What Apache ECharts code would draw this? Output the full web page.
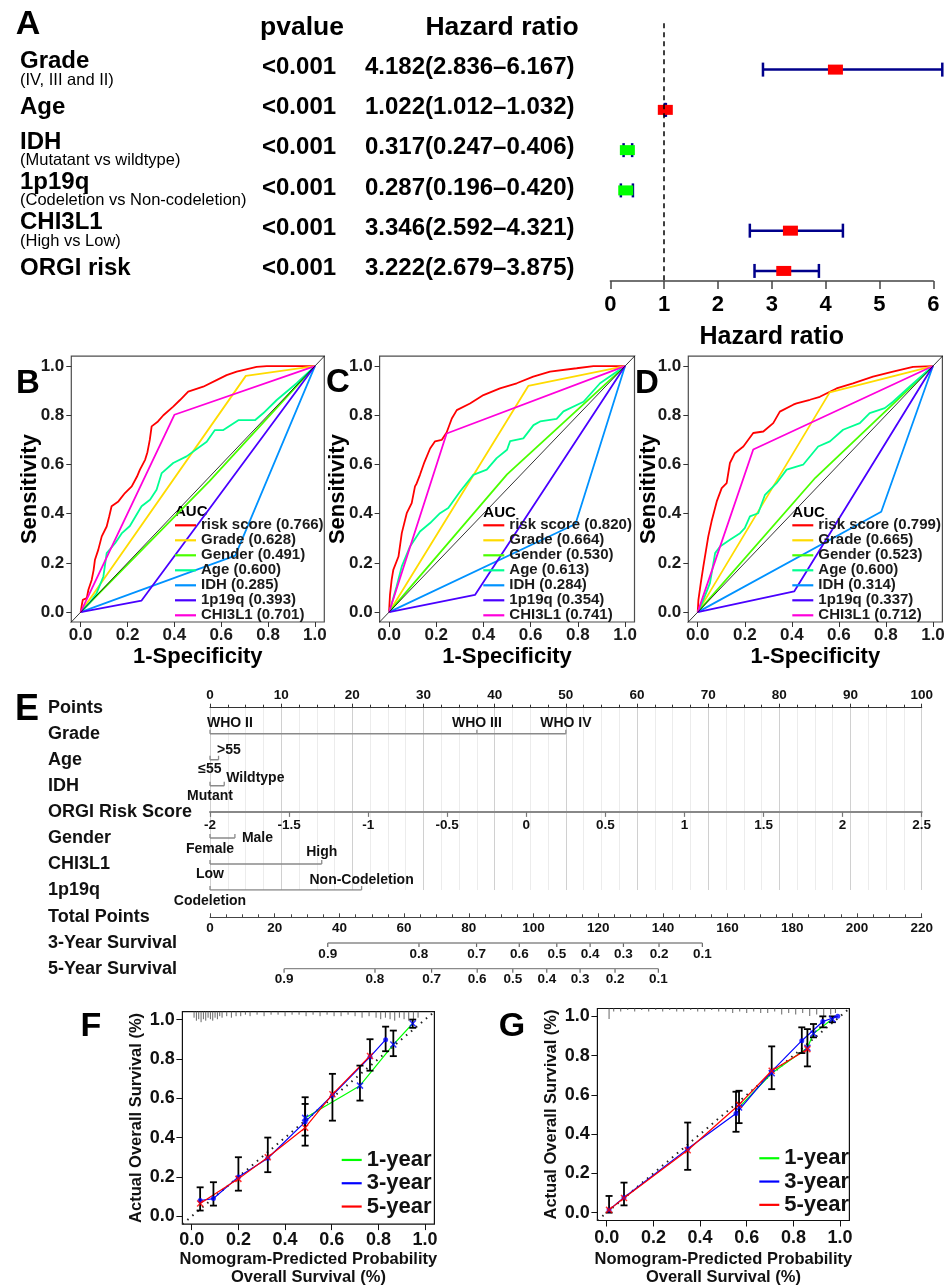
<!DOCTYPE html>
<html><head><meta charset="utf-8">
<script src="https://cdn.jsdelivr.net/npm/echarts@6/dist/echarts.min.js"></script>
<style>html,body{margin:0;padding:0;background:#fff}#c{width:951px;height:1286px}</style>
</head><body><div id="c"></div>
<script>
const FONT = "'Liberation Sans', Arial, Helvetica, sans-serif";

// ---------------- Panel A : Cox forest ----------------
const coxVars = ['Grade','Age','IDH','1p19q','CHI3L1','ORGI risk'];
const coxSubs = ['(IV, III and II)','','(Mutatant vs wildtype)','(Codeletion vs Non-codeletion)','(High vs Low)',''];
const coxP = ['<0.001','<0.001','<0.001','<0.001','<0.001','<0.001'];
const coxHR = [4.182,1.022,0.317,0.287,3.346,3.222];
const coxLo = [2.836,1.012,0.247,0.196,2.592,2.679];
const coxHi = [6.167,1.032,0.406,0.420,4.321,3.875];

// ---------------- Panels B-D : ROC ----------------
const rocVars = ['risk score','Grade','Gender','Age','IDH','1p19q','CHI3L1'];
const aucB = [0.766,0.628,0.491,0.600,0.285,0.393,0.701];
const aucC = [0.820,0.664,0.530,0.613,0.284,0.354,0.741];
const aucD = [0.799,0.665,0.523,0.600,0.314,0.337,0.712];
const rocTicks = [0,0.2,0.4,0.6,0.8,1];

const rocB_risk = [[0,0],[0.005,0.03],[0.009,0.05],[0.026,0.057],[0.033,0.091],[0.047,0.131],[0.055,0.17],[0.061,0.213],[0.075,0.253],[0.09,0.308],[0.111,0.348],[0.122,0.39],[0.132,0.43],[0.161,0.45],[0.189,0.484],[0.218,0.511],[0.24,0.55],[0.253,0.579],[0.275,0.619],[0.285,0.65],[0.295,0.70],[0.303,0.755],[0.33,0.775],[0.353,0.80],[0.395,0.835],[0.424,0.862],[0.459,0.896],[0.523,0.916],[0.58,0.943],[0.623,0.963],[0.666,0.977],[0.751,0.997],[0.794,1.0],[1,1]];
const rocB_grade = [[0,0],[0.705,0.96],[1,1]];
const rocB_gender = [[0,0],[0.55,0.532],[1,1]];
const rocB_age = [[0,0],[0.04,0.04],[0.068,0.077],[0.097,0.145],[0.111,0.24],[0.147,0.28],[0.175,0.32],[0.21,0.35],[0.26,0.43],[0.296,0.457],[0.324,0.497],[0.346,0.565],[0.395,0.606],[0.452,0.633],[0.538,0.692],[0.573,0.74],[0.609,0.74],[0.673,0.78],[0.744,0.78],[0.779,0.808],[0.837,0.862],[0.922,0.93],[1,1]];
const rocB_idh = [[0,0],[0.66,0.23],[1,1]];
const rocB_1p19q = [[0,0],[0.26,0.047],[1,1]];
const rocB_chi = [[0,0],[0.40,0.802],[1,1]];

const rocC_risk = [[0,0],[0.004,0.07],[0.011,0.131],[0.018,0.172],[0.04,0.226],[0.054,0.321],[0.075,0.402],[0.096,0.443],[0.11,0.511],[0.117,0.523],[0.131,0.558],[0.15,0.61],[0.174,0.665],[0.195,0.694],[0.223,0.70],[0.244,0.73],[0.266,0.787],[0.287,0.821],[0.343,0.848],[0.40,0.882],[0.47,0.909],[0.541,0.93],[0.611,0.957],[0.682,0.977],[0.795,0.991],[0.866,1.0],[1,1]];
const rocC_grade = [[0,0],[0.59,0.919],[1,1]];
const rocC_gender = [[0,0],[0.5,0.56],[1,1]];
const rocC_age = [[0,0],[0.01,0.03],[0.032,0.104],[0.054,0.186],[0.089,0.267],[0.131,0.328],[0.174,0.362],[0.216,0.402],[0.251,0.423],[0.301,0.49],[0.357,0.558],[0.414,0.579],[0.456,0.626],[0.5,0.66],[0.513,0.695],[0.569,0.706],[0.612,0.76],[0.64,0.775],[0.71,0.785],[0.739,0.816],[0.824,0.855],[0.894,0.93],[1,1]];
const rocC_idh = [[0,0],[0.79,0.358],[1,1]];
const rocC_1p19q = [[0,0],[0.364,0.07],[1,1]];
const rocC_chi = [[0,0],[0.244,0.726],[1,1]];

const rocD_risk = [[0,0],[0.003,0.05],[0.013,0.118],[0.024,0.186],[0.035,0.25],[0.045,0.308],[0.059,0.369],[0.081,0.45],[0.102,0.504],[0.123,0.524],[0.137,0.606],[0.158,0.646],[0.194,0.673],[0.236,0.728],[0.279,0.734],[0.321,0.768],[0.349,0.815],[0.406,0.843],[0.42,0.848],[0.477,0.863],[0.519,0.875],[0.59,0.909],[0.66,0.93],[0.745,0.957],[0.83,0.977],[0.915,0.997],[1,1]];
const rocD_grade = [[0,0],[0.561,0.893],[1,1]];
const rocD_gender = [[0,0],[0.5,0.546],[1,1]];
const rocD_age = [[0,0],[0.02,0.04],[0.052,0.118],[0.074,0.24],[0.095,0.267],[0.137,0.294],[0.18,0.321],[0.2,0.341],[0.222,0.389],[0.257,0.402],[0.286,0.477],[0.335,0.524],[0.378,0.579],[0.448,0.599],[0.512,0.673],[0.562,0.694],[0.618,0.741],[0.689,0.768],[0.731,0.809],[0.795,0.829],[0.83,0.855],[0.90,0.916],[1,1]];
const rocD_idh = [[0,0],[0.78,0.408],[1,1]];
const rocD_1p19q = [[0,0],[0.41,0.084],[1,1]];
const rocD_chi = [[0,0],[0.236,0.661],[1,1]];

// ---------------- Panel E : nomogram ----------------
const nomoRows = ['Points','Grade','Age','IDH','ORGI Risk Score','Gender','CHI3L1','1p19q'];
const nomoRows2 = ['Total Points','3-Year Survival','5-Year Survival'];
const gradeLevels = ['WHO II','WHO III','WHO IV'];   const gradePts = [0,37.5,50];
const ageLevels = ['\u226455','>55'];                 const agePts = [0,1.2];
const idhLevels = ['Mutant','Wildtype'];              const idhPts = [0,2.0];
const genderLevels = ['Female','Male'];               const genderPts = [0,3.5];
const chiLevels = ['Low','High'];                     const chiPts = [0,15.7];
const codelLevels = ['Codeletion','Non-Codeletion']; const codelPts = [0,21.3];
const riskScoreMin = -2, riskScoreMax = 2.5, riskScoreStep = 0.5;
const totalMax = 220;
const surv3Prob = [0.9,0.8,0.7,0.6,0.5,0.4,0.3,0.2,0.1];
const surv3Pts  = [36.4,64.6,82.4,95.6,107.2,117.5,127.8,138.8,152.2];
const surv5Prob = [0.9,0.8,0.7,0.6,0.5,0.4,0.3,0.2,0.1];
const surv5Pts  = [22.9,51.0,68.5,82.6,93.6,104.1,114.4,125.2,138.6];

// ---------------- Panels F, G : calibration ----------------
const calTicks = [0,0.2,0.4,0.6,0.8,1];
const f1x = [0.486,0.721,0.864,0.947];            const f1y = [0.50,0.664,0.873,0.98];
const f3x = [0.036,0.093,0.20,0.326,0.486,0.603,0.764,0.831]; const f3y = [0.08,0.09,0.20,0.295,0.48,0.615,0.81,0.898];
const f5x = [0.036,0.20,0.326,0.486,0.603,0.764]; const f5y = [0.065,0.19,0.30,0.45,0.62,0.815];
const errFx  = [0.036,0.093,0.20,0.326,0.486,0.486,0.603,0.721,0.764,0.831,0.864,0.947];
const errFlo = [0.029,0.054,0.13,0.224,0.359,0.41,0.486,0.588,0.74,0.839,0.814,0.958];
const errFhi = [0.147,0.173,0.30,0.40,0.605,0.571,0.724,0.766,0.90,0.964,0.944,1.0];
const rugFx = [0.01,0.02,0.03,0.04,0.05,0.06,0.07,0.08,0.09,0.10,0.11,0.12,0.13,0.15,0.17,0.19,0.21,0.23,0.25,0.28,0.31,0.34,0.37,0.40,0.43,0.46,0.49,0.52,0.55,0.58,0.61,0.64,0.67,0.70,0.73,0.76,0.79,0.81,0.83,0.85,0.87,0.89,0.91,0.93,0.95,0.97];
const rugFn = [4,6,5,7,5,6,4,5,6,4,5,3,4,3,4,3,3,2,3,2,3,2,2,3,2,2,3,2,3,2,3,3,2,3,4,3,4,5,4,5,6,4,5,6,5,4];

const g1x = [0.567,0.707,0.86,0.886,0.967];       const g1y = [0.536,0.71,0.84,0.913,0.986];
const g3x = [0.01,0.074,0.347,0.554,0.707,0.836,0.926,0.99]; const g3y = [0.014,0.077,0.325,0.505,0.72,0.876,0.974,1.0];
const g5x = [0.01,0.074,0.347,0.567,0.707,0.86];  const g5y = [0.014,0.075,0.318,0.55,0.723,0.833];
const errGx  = [0.01,0.074,0.347,0.554,0.567,0.707,0.836,0.86,0.886,0.926,0.967];
const errGlo = [0.0,0.037,0.218,0.412,0.456,0.629,0.813,0.745,0.893,0.944,0.97];
const errGhi = [0.085,0.153,0.459,0.616,0.621,0.847,0.944,0.935,0.961,1.0,1.0];
const rugGx = [0.01,0.03,0.06,0.09,0.12,0.15,0.18,0.21,0.24,0.27,0.30,0.33,0.36,0.39,0.42,0.45,0.48,0.51,0.54,0.57,0.60,0.63,0.66,0.69,0.72,0.75,0.78,0.81,0.84,0.87,0.90,0.93,0.96,0.98];
const rugGn = [7,2,2,1,2,1,2,1,2,1,2,2,1,2,2,1,2,2,3,2,3,2,3,3,2,4,3,4,3,5,4,5,4,3];

// ======================= build =======================
const rocPalette = ['#FF0000','#FFDB00','#49FF00','#00FF92','#0092FF','#4900FF','#FF00DB'];
const AX_MIN = -0.04, AX_MAX = 1.04;
const bold = (size, color) => ({fontSize:size, fontWeight:'bold', color:color||'#111', fontFamily:FONT});

const grids = [
  {left:610.3, top:23.3, width:323, height:257.7},          // 0 forest
  {left:71.3, top:356.2, width:253, height:265.8},           // 1 ROC B
  {left:379.6, top:356.2, width:254.9, height:265.8},        // 2 ROC C
  {left:688.3, top:356.2, width:254.1, height:265.8},        // 3 ROC D
  {left:210, top:707.7, width:711.7, height:182.3},          // 4 nomogram rows
  {left:210, top:810.9, width:711.7, height:1},              // 5 ORGI axis
  {left:210, top:917.3, width:711.7, height:51.4},           // 6 total + survival
  {left:182.4, top:1011.7, width:252, height:212.4},         // 7 F
  {left:597.4, top:1008.5, width:252, height:212}            // 8 G
].map(g => Object.assign({outerBoundsMode:'none', containLabel:false}, g));
[1,2,3].forEach(i => { grids[i].show = true; grids[i].borderColor = '#4d4d4d'; grids[i].borderWidth = 1.2; grids[i].backgroundColor='transparent'; });
[7,8].forEach(i => { grids[i].show = true; grids[i].borderColor = '#111'; grids[i].borderWidth = 1.2; grids[i].backgroundColor='transparent'; });

function rocXAxis(gi){
  return {type:'value', gridIndex:gi, min:AX_MIN, max:AX_MAX,
    axisLine:{show:false, onZero:false},
    axisTick:{show:true, customValues:rocTicks, length:5, lineStyle:{color:'#333'}},
    axisLabel:Object.assign({customValues:rocTicks, formatter:v=>v.toFixed(1), margin:5}, bold(17,'#1a1a1a')),
    splitLine:{show:false},
    name:'1-Specificity', nameLocation:'middle', nameGap:24, nameMoveOverlap:false, nameTextStyle:bold(22,'#000')};
}
function rocYAxis(gi, gap){
  return {type:'value', gridIndex:gi, min:AX_MIN, max:AX_MAX,
    axisLine:{show:false, onZero:false},
    axisTick:{show:true, customValues:rocTicks, length:5, lineStyle:{color:'#333'}},
    axisLabel:Object.assign({customValues:rocTicks, formatter:v=>v.toFixed(1), margin:7}, bold(17,'#1a1a1a')),
    splitLine:{show:false},
    name:'Sensitivity', nameLocation:'middle', nameGap:gap, nameMoveOverlap:false, nameTextStyle:bold(22,'#000')};
}
function calXAxis(gi, gap, margin){
  return {type:'value', gridIndex:gi, min:AX_MIN, max:AX_MAX,
    axisLine:{show:false, onZero:false},
    axisTick:{show:true, customValues:calTicks, length:6, lineStyle:{color:'#111'}},
    axisLabel:Object.assign({customValues:calTicks, formatter:v=>v.toFixed(1), margin:margin}, bold(18,'#111')),
    splitLine:{show:false},
    name:'Nomogram-Predicted Probability\nOverall Survival (%)', nameLocation:'middle', nameGap:gap, nameMoveOverlap:false,
    nameTextStyle:Object.assign({lineHeight:18.3}, bold(16.5,'#111'))};
}
function calYAxis(gi){
  return {type:'value', gridIndex:gi, min:AX_MIN, max:AX_MAX,
    axisLine:{show:false, onZero:false},
    axisTick:{show:true, customValues:calTicks, length:6, lineStyle:{color:'#111'}},
    axisLabel:Object.assign({customValues:calTicks, formatter:v=>v.toFixed(1), margin:7.7}, bold(18,'#111')),
    splitLine:{show:false},
    name:'Actual Overall Survival (%)', nameLocation:'middle', nameGap:37.5, nameMoveOverlap:false, nameTextStyle:bold(16.5,'#111')};
}

const xAxes = [
  {type:'value', gridIndex:0, min:0, max:6, interval:1, position:'bottom',
   axisLine:{show:true, onZero:false, lineStyle:{color:'#444', width:1.5}},
   axisTick:{show:true, length:8, lineStyle:{color:'#444', width:1.5}},
   axisLabel:Object.assign({margin:13}, bold(22,'#000')), splitLine:{show:false},
   name:'Hazard ratio', nameLocation:'middle', nameGap:44, nameMoveOverlap:false, nameTextStyle:bold(25,'#000')},
  rocXAxis(1), rocXAxis(2), rocXAxis(3),
  {type:'value', gridIndex:4, position:'top', min:0, max:100, interval:10,
   axisLine:{show:true, onZero:false, lineStyle:{color:'#333', width:1.2}},
   axisTick:{show:true, length:4, lineStyle:{color:'#333'}},
   minorTick:{show:true, splitNumber:4, length:3, lineStyle:{color:'#333'}},
   axisLabel:Object.assign({margin:5}, bold(13.5,'#111')),
   splitLine:{show:true, lineStyle:{color:'#d0d0d0', width:1}},
   minorSplitLine:{show:true, lineStyle:{color:'#ececec', width:1}}},
  {type:'value', gridIndex:5, position:'bottom', min:riskScoreMin, max:riskScoreMax, interval:riskScoreStep,
   axisLine:{show:true, onZero:false, lineStyle:{color:'#888', width:2}},
   axisTick:{show:true, length:5, lineStyle:{color:'#777', width:1.2}},
   axisLabel:Object.assign({margin:6}, bold(13.5,'#111')), splitLine:{show:false}},
  {type:'value', gridIndex:6, position:'top', min:0, max:totalMax, interval:20,
   axisLine:{show:true, onZero:false, lineStyle:{color:'#444', width:1.2}},
   axisTick:{show:true, length:4, lineStyle:{color:'#444'}},
   minorTick:{show:true, splitNumber:4, length:3, lineStyle:{color:'#444'}},
   axisLabel:Object.assign({inside:true, margin:4}, bold(13.5,'#111')), splitLine:{show:false}},
  calXAxis(7, 26.4, 7), calXAxis(8, 30, 9)
];

const nomoYLabel = Object.assign({align:'left', margin:162}, bold(18,'#111'));
const yAxes = [
  {type:'value', gridIndex:0, min:-0.15, max:6.25, inverse:true, show:false},
  rocYAxis(1, 30.3), rocYAxis(2, 31), rocYAxis(3, 28.5),
  {type:'category', gridIndex:4, data:nomoRows, inverse:true, boundaryGap:false,
   axisLine:{show:false, onZero:false}, axisTick:{show:false}, splitLine:{show:false}, axisLabel:nomoYLabel},
  {type:'value', gridIndex:5, show:false},
  {type:'category', gridIndex:6, data:nomoRows2, inverse:true, boundaryGap:false,
   axisLine:{show:false, onZero:false}, axisTick:{show:false}, splitLine:{show:false}, axisLabel:nomoYLabel},
  calYAxis(7), calYAxis(8)
];

const series = [];

// ---- Panel A series ----
const hrText = i => coxHR[i].toFixed(3) + '(' + coxLo[i].toFixed(3) + '\u2013' + coxHi[i].toFixed(3) + ')';
const txt = (text, x, y, size, weight, align) => ({type:'text', style:{text:text, x:x, y:y, align:align||'left', verticalAlign:'middle', fontSize:size, fontWeight:weight, fontFamily:FONT, fill:'#000'}});
series.push({type:'custom', name:'coxText', xAxisIndex:0, yAxisIndex:0, silent:true, clip:false,
  data: coxVars.map((v,i)=>[0, i+1]),
  renderItem:(params, api)=>{
    const i = params.dataIndex;
    const y = api.coord([0, api.value(1)])[1];
    const hasSub = coxSubs[i] !== '';
    const ch = [txt(coxVars[i], 20, hasSub ? y-8 : y-2.5, 24, 'bold')];
    if (hasSub) ch.push(txt(coxSubs[i], 20, y+10.5, 16.5, 'normal'));
    ch.push(txt(coxP[i], 262, y-2.5, 24, 'bold'));
    ch.push(txt(hrText(i), 365, y-2.5, 24, 'bold'));
    return {type:'group', children:ch};
  }});
series.push({type:'custom', name:'coxCI', xAxisIndex:0, yAxisIndex:0, silent:true, clip:false,
  data: coxHR.map((h,i)=>[coxLo[i], coxHi[i], i+1]),
  encode:{x:[0,1], y:2},
  renderItem:(params, api)=>{
    const a = api.coord([api.value(0), api.value(2)]), b = api.coord([api.value(1), api.value(2)]);
    const st = {stroke:'#00008B', lineWidth:2.5};
    return {type:'group', children:[
      {type:'line', shape:{x1:a[0], y1:a[1], x2:b[0], y2:b[1]}, style:st},
      {type:'line', shape:{x1:a[0], y1:a[1]-7, x2:a[0], y2:a[1]+7}, style:st},
      {type:'line', shape:{x1:b[0], y1:b[1]-7, x2:b[0], y2:b[1]+7}, style:st}]};
  },
  markLine:{silent:true, symbol:'none', label:{show:false}, lineStyle:{color:'#000', width:1.5, type:[5,4]}, data:[{xAxis:1}]}
});
series.push({type:'custom', name:'coxBox', xAxisIndex:0, yAxisIndex:0, silent:true, clip:false,
  data: coxHR.map((h,i)=>[h, i+1]),
  renderItem:(params, api)=>{
    const c = api.coord([api.value(0), api.value(1)]);
    return {type:'rect', shape:{x:c[0]-7.5, y:c[1]-5, width:15, height:10}, style:{fill: api.value(0) > 1 ? '#FF0000' : '#00FF00'}};
  }});

// ---- ROC series ----
function rocSeries(curves, aucs, idx){
  curves.forEach((pts,k)=>{
    series.push({type:'line', name: rocVars[k] + ' (' + aucs[k].toFixed(3) + ')', xAxisIndex:idx, yAxisIndex:idx,
      data:pts, symbol:'none', showSymbol:false, color:rocPalette[k], lineStyle:{width:1.8, color:rocPalette[k]}, silent:true, z:3});
  });
  series.push({type:'line', name:'ref'+idx, xAxisIndex:idx, yAxisIndex:idx, data:[[-0.1,-0.1],[1.1,1.1]], symbol:'none',
    lineStyle:{color:'#000', width:0.8}, silent:true, z:4});
}
rocSeries([rocB_risk,rocB_grade,rocB_gender,rocB_age,rocB_idh,rocB_1p19q,rocB_chi], aucB, 1);
rocSeries([rocC_risk,rocC_grade,rocC_gender,rocC_age,rocC_idh,rocC_1p19q,rocC_chi], aucC, 2);
rocSeries([rocD_risk,rocD_grade,rocD_gender,rocD_age,rocD_idh,rocD_1p19q,rocD_chi], aucD, 3);

// ---- Nomogram series ----
const nomoVars = [
  {row:'Grade', levels:gradeLevels, pts:gradePts},
  {row:'Age', levels:ageLevels, pts:agePts},
  {row:'IDH', levels:idhLevels, pts:idhPts},
  {row:'Gender', levels:genderLevels, pts:genderPts},
  {row:'CHI3L1', levels:chiLevels, pts:chiPts},
  {row:'1p19q', levels:codelLevels, pts:codelPts}
];
const nomoPlace = {
  'WHO II':{dy:-11, align:'left', dx:-3}, 'WHO III':{dy:-11}, 'WHO IV':{dy:-11},
  '\u226455':{dy:9.7}, '>55':{dy:-9.5, align:'left', dx:-1.5},
  'Mutant':{dy:10.7}, 'Wildtype':{dy:-8, align:'left', dx:2},
  'Female':{dy:11}, 'Male':{dy:0.5, align:'left', dx:7},
  'Low':{dy:10}, 'High':{dy:-12},
  'Codeletion':{dy:11.5}, 'Non-Codeletion':{dy:-10}
};
const nomoItems = [];
nomoVars.forEach(v=>{
  series.push({type:'line', xAxisIndex:4, yAxisIndex:4, silent:true, symbol:'none',
    data:[[Math.min(...v.pts), v.row],[Math.max(...v.pts), v.row]], lineStyle:{color:'#8a8a8a', width:1.5}});
  v.levels.forEach((lab,k)=>nomoItems.push({pts:v.pts[k], row:v.row, label:lab}));
});
series.push({type:'custom', xAxisIndex:4, yAxisIndex:4, silent:true, clip:false,
  data: nomoItems.map(it=>[it.pts, it.row]),
  renderItem:(params, api)=>{
    const it = nomoItems[params.dataIndex];
    const p = api.coord([api.value(0), api.value(1)]);
    const pl = nomoPlace[it.label] || {dy:-10};
    return {type:'group', children:[
      {type:'line', shape:{x1:p[0], y1:p[1], x2:p[0], y2:p[1]-4}, style:{stroke:'#8a8a8a', lineWidth:1.3}},
      {type:'text', style:{text:it.label, x:p[0]+(pl.dx||0), y:p[1]+pl.dy, align:pl.align||'center', verticalAlign:'middle',
        fontSize:14, fontWeight:'bold', fontFamily:FONT, fill:'#111'}}]};
  }});
const survItems = [];
[[surv3Prob, surv3Pts, '3-Year Survival'],[surv5Prob, surv5Pts, '5-Year Survival']].forEach(([pr, pt, row])=>{
  series.push({type:'line', xAxisIndex:6, yAxisIndex:6, silent:true, symbol:'none',
    data:[[pt[0], row],[pt[pt.length-1], row]], lineStyle:{color:'#8a8a8a', width:1.5}});
  pr.forEach((p,k)=>survItems.push({pts:pt[k], row:row, label:p.toFixed(1)}));
});
series.push({type:'custom', xAxisIndex:6, yAxisIndex:6, silent:true, clip:false,
  data: survItems.map(it=>[it.pts, it.row]),
  renderItem:(params, api)=>{
    const it = survItems[params.dataIndex];
    const p = api.coord([api.value(0), api.value(1)]);
    return {type:'group', children:[
      {type:'line', shape:{x1:p[0], y1:p[1], x2:p[0], y2:p[1]+4}, style:{stroke:'#666', lineWidth:1.2}},
      {type:'text', style:{text:it.label, x:p[0], y:p[1]+11, align:'center', verticalAlign:'middle',
        fontSize:13.5, fontWeight:'bold', fontFamily:FONT, fill:'#111'}}]};
  }});

// ---- Calibration series ----
const xPath = 'path://M0,0L10,10M10,0L0,10';
const calColors = {'1-year':'#00FF00', '3-year':'#0000FF', '5-year':'#FF0000'};
function calSeries(idx, rx, rn, ex, elo, ehi, s1x, s1y, s3x, s3y, s5x, s5y){
  series.push({type:'line', xAxisIndex:idx, yAxisIndex:idx, silent:true, symbol:'none', z:1,
    data:[[AX_MIN,AX_MIN],[AX_MAX,AX_MAX]], lineStyle:{color:'#222', width:2, type:[1.5,5]}});
  series.push({type:'custom', xAxisIndex:idx, yAxisIndex:idx, silent:true, clip:false, z:2,
    data: rx.map((x,i)=>[x, rn[i]]),
    renderItem:(params, api)=>{
      const t = api.coord([api.value(0), AX_MAX]);
      return {type:'line', shape:{x1:t[0], y1:t[1], x2:t[0], y2:t[1] + api.value(1)*1.5}, style:{stroke:'#666', lineWidth:1}};
    }});
  const mk = (xs, ys) => xs.map((x,i)=>[x, ys[i]]);
  const sets = [['1-year', s1x, s1y, xPath, '#0000FF', 6], ['3-year', s3x, s3y, 'circle', '#0000FF', 5], ['5-year', s5x, s5y, xPath, '#FF0000', 6]];
  sets.forEach(([nm, xs, ys, sym, mcol, msz])=>{
    series.push({type:'line', name:nm, xAxisIndex:idx, yAxisIndex:idx, silent:true, z:3, data:mk(xs,ys),
      symbol:'none', showSymbol:false, color:calColors[nm], lineStyle:{color:calColors[nm], width:1.2}});
    series.push({type:'scatter', xAxisIndex:idx, yAxisIndex:idx, silent:true, z:5, data:mk(xs,ys),
      symbol:sym, symbolSize:msz, itemStyle:{color:mcol, borderColor:mcol, borderWidth: sym === 'circle' ? 0 : 1.5}});
  });
  series.push({type:'custom', xAxisIndex:idx, yAxisIndex:idx, silent:true, clip:false, z:4,
    data: ex.map((x,i)=>[x, elo[i], ehi[i]]), encode:{x:0, y:[1,2]},
    renderItem:(params, api)=>{
      const x = api.value(0);
      const a = api.coord([x, api.value(1)]), b = api.coord([x, api.value(2)]);
      const st = {stroke:'#000', lineWidth:1.8}; const w = 3.5;
      return {type:'group', children:[
        {type:'line', shape:{x1:a[0], y1:a[1], x2:b[0], y2:b[1]}, style:st},
        {type:'line', shape:{x1:a[0]-w, y1:a[1], x2:a[0]+w, y2:a[1]}, style:st},
        {type:'line', shape:{x1:b[0]-w, y1:b[1], x2:b[0]+w, y2:b[1]}, style:st}]};
    }});
}
calSeries(7, rugFx, rugFn, errFx, errFlo, errFhi, f1x, f1y, f3x, f3y, f5x, f5y);
calSeries(8, rugGx, rugGn, errGx, errGlo, errGhi, g1x, g1y, g3x, g3y, g5x, g5y);

// ---- legends ----
function rocLegend(left, aucs){
  return {left:left, top:517.8, orient:'vertical', icon:'rect', itemWidth:21, itemHeight:2.2, itemGap:0, padding:0,
    selectedMode:false, textStyle:Object.assign({lineHeight:14.3}, bold(15,'#1a1a1a')),
    data: rocVars.map((v,k)=>({name: v + ' (' + aucs[k].toFixed(3) + ')', itemStyle:{color:rocPalette[k], borderWidth:0}}))};
}
function calLegend(left, top){
  return {left:left, top:top, orient:'vertical', icon:'rect', itemWidth:20, itemHeight:2.2, itemGap:0, padding:0,
    selectedMode:false, textStyle:Object.assign({lineHeight:23.3}, bold(22,'#111')),
    data:['1-year','3-year','5-year'].map(n=>({name:n, itemStyle:{color:calColors[n], borderWidth:0}}))};
}

const gtext = (text, x, y, size, align) => ({type:'text', x:x, y:y, silent:true,
  style:{text:text, align:align||'center', verticalAlign:'middle', fontSize:size, fontWeight:'bold', fontFamily:FONT, fill:'#000'}});

const option = {
  animation:false,
  backgroundColor:'#ffffff',
  textStyle:{fontFamily:FONT},
  grid:grids, xAxis:xAxes, yAxis:yAxes,
  legend:[rocLegend(175, aucB), rocLegend(483.3, aucC), rocLegend(792.3, aucD), calLegend(341.7, 1148.3), calLegend(759.3, 1146.6)],
  graphic:[
    gtext('A', 28, 25, 34), gtext('pvalue', 302, 28, 26.5), gtext('Hazard ratio', 502, 28, 26.5),
    gtext('B', 28, 384, 33), gtext('C', 338, 383, 33), gtext('D', 647, 384, 33),
    gtext('AUC', 175, 511.7, 15, 'left'), gtext('AUC', 483.3, 513.3, 15, 'left'), gtext('AUC', 792.3, 513.3, 15, 'left'),
    gtext('E', 27, 710, 36), gtext('F', 91, 1027, 34), gtext('G', 512, 1027, 34)
  ],
  series:series
};
const chart = echarts.init(document.getElementById('c'), null, {renderer:'canvas', width:951, height:1286});
chart.setOption(option);
</script></body></html>
